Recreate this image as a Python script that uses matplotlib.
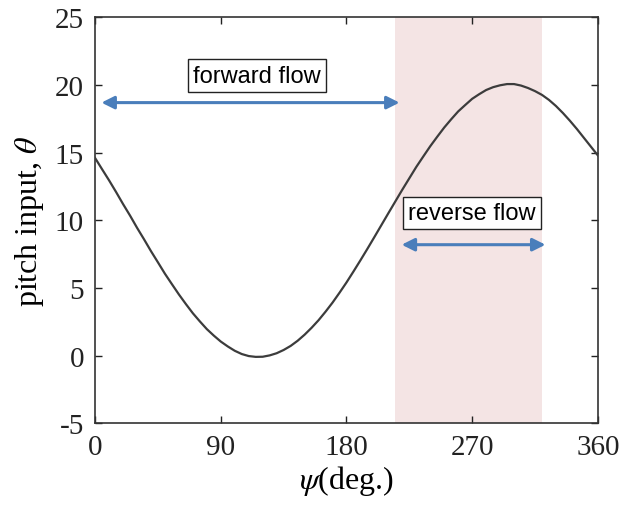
import numpy as np
import matplotlib.pyplot as plt

# pitch input, every 5 deg
psi = np.arange(0, 361, 5)
theta = [14.6, 13.77, 12.95, 12.09, 11.2, 10.35, 9.45, 8.6, 7.72, 6.89,
         6.05, 5.28, 4.52, 3.81, 3.13, 2.53, 1.96, 1.48, 1.04, 0.68,
         0.36, 0.12, -0.03, -0.09, -0.08, 0.02, 0.18, 0.42, 0.72, 1.1,
         1.55, 2.06, 2.62, 3.25, 3.92, 4.65, 5.41, 6.22, 7.05, 7.9,
         8.77, 9.65, 10.53, 11.4, 12.27, 13.11, 13.95, 14.72, 15.48, 16.18,
         16.86, 17.47, 18.05, 18.52, 18.98, 19.32, 19.63, 19.84, 19.98, 20.07,
         20.07, 19.96, 19.78, 19.55, 19.27, 18.9, 18.45, 17.93, 17.36, 16.75,
         16.1, 15.45, 14.8]

reverse_span = [215, 320]
xticks = [0, 90, 180, 270, 360]
yticks = [-5, 0, 5, 10, 15, 20, 25]

plt.rcParams['font.family'] = ['Liberation Serif', 'DejaVu Serif']
plt.rcParams['mathtext.fontset'] = 'stix'
plt.rcParams['axes.unicode_minus'] = False

fig = plt.figure(figsize=(6.26, 5.10), dpi=100)
ax = fig.add_axes([0.152, 0.168, 0.803, 0.796])

ax.axvspan(reverse_span[0], reverse_span[1], color='#f4e4e4', lw=0, zorder=0)
ax.plot(psi, theta, color='#3c3c3c', lw=1.6, zorder=3)

arrow_col = '#4a7ebb'
ax.annotate('', xy=(4.5, 18.7), xytext=(218, 18.7),
            arrowprops=dict(arrowstyle='<|-|>', color=arrow_col, lw=2.2,
                            mutation_scale=19, shrinkA=0, shrinkB=0))
ax.annotate('', xy=(219.5, 8.2), xytext=(322.5, 8.2),
            arrowprops=dict(arrowstyle='<|-|>', color=arrow_col, lw=2.2,
                            mutation_scale=19, shrinkA=0, shrinkB=0))

box = dict(boxstyle='square,pad=0.22', fc='white', ec='#222222', lw=1)
ax.text(116, 20.7, 'forward flow', ha='center', va='center', fontsize=17,
        family='Liberation Sans', bbox=box, zorder=5)
ax.text(270, 10.55, 'reverse flow', ha='center', va='center', fontsize=17,
        family='Liberation Sans', bbox=box, zorder=5)

ax.set_xlim(0, 360)
ax.set_ylim(-5, 25)
ax.set_xticks(xticks)
ax.set_yticks(yticks)
ax.tick_params(direction='in', top=True, right=True, labelsize=21,
               length=5, width=1, colors='#222222', pad=8)
for s in ax.spines.values():
    s.set_color('#333333')
    s.set_linewidth(1.2)

ax.set_xlabel(r'$\psi$(deg.)', fontsize=23, labelpad=2)
ax.set_ylabel(r'pitch input, $\theta$', fontsize=23, labelpad=6)

fig.savefig('out.png', dpi=100)
